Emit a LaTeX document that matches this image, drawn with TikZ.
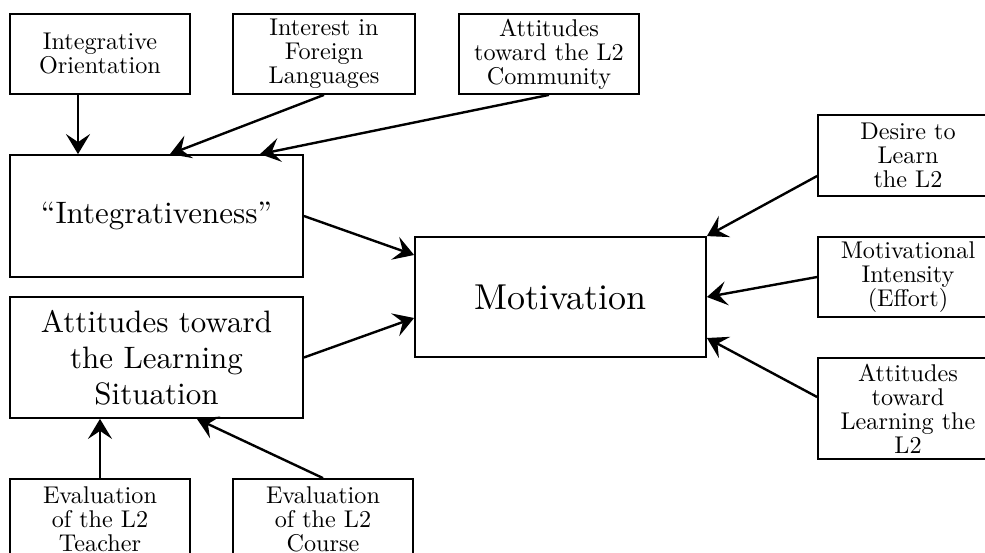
\documentclass[tikz,border=0pt]{standalone}
\usetikzlibrary{arrows.meta}
\DeclareFontFamily{TU}{lmten}{}
\DeclareFontShape{TU}{lmten}{m}{n}{<-> "[lmroman10-regular]:mapping=tex-text"}{}
\begin{document}
\begin{tikzpicture}[x=1pt,y=-1pt,
  box/.style={draw, line width=1.8pt, inner sep=0pt, align=center},
  smalltext/.style={font=\fontfamily{lmten}\fontsize{24.2}{24}\selectfont},
  bigtext/.style={font=\fontfamily{lmten}\fontsize{31}{36}\selectfont},
  hugetext/.style={font=\fontfamily{lmten}\fontsize{36}{43}\selectfont},
  arr/.style={-{Stealth[length=20pt,width=24pt,inset=8pt]}, line width=2.4pt}]
\useasboundingbox (0,0) rectangle (985,553);
% top row
\node[box, smalltext, minimum width=180pt, minimum height=80pt] (io) at (100,54) {Integrative\\Orientation};
\node[box, smalltext, minimum width=182pt, minimum height=80pt] (ifl) at (324,54) {Interest in\\Foreign\\Languages};
\node[box, smalltext, minimum width=180pt, minimum height=80pt] (com) at (549,54) {Attitudes\\toward the L2\\Community};
% left big boxes
\node[box, bigtext, minimum width=293pt, minimum height=122pt] (integ) at (156.5,216) {“Integrativeness”};
\node[box, bigtext, minimum width=293pt, minimum height=121pt] (als) at (156.5,357.5) {Attitudes toward\\the Learning\\Situation};
% motivation
\node[box, hugetext, minimum width=291pt, minimum height=120pt] (mot) at (560.5,297) {Motivation};
% right boxes
\node[box, smalltext, minimum width=180pt, minimum height=81pt] (des) at (908,155.5) {Desire to\\Learn\\the L2};
\node[box, smalltext, minimum width=180pt, minimum height=80pt] (mi) at (908,277) {Motivational\\Intensity\\(Effort)};
\node[box, smalltext, minimum width=180pt, minimum height=101pt] (atl) at (908,408.5) {Attitudes\\toward\\Learning the\\L2};
% bottom boxes
\node[box, smalltext, minimum width=180pt, minimum height=80pt] (teach) at (100,519) {Evaluation\\of the L2\\Teacher};
\node[box, smalltext, minimum width=180pt, minimum height=80pt] (course) at (323,519) {Evaluation\\of the L2\\Course};
% arrows
\draw[arr] ([xshift=-22pt]io.south) -- ([xshift=-78.5pt]integ.north);
\draw[arr] (ifl.south) -- ([xshift=13.5pt]integ.north);
\draw[arr] (com.south) -- ([xshift=103.5pt]integ.north);
\draw[arr] (integ.east) -- ([yshift=42pt]mot.west);
\draw[arr] (als.east) -- ([yshift=-21pt]mot.west);
\draw[arr] (teach.north) -- ([xshift=-56.5pt]als.south);
\draw[arr] (course.north) -- ([xshift=40.5pt]als.south);
\draw[arr] ([yshift=-20.5pt]des.west) -- (mot.north east);
\draw[arr] (mi.west) -- (mot.east);
\draw[arr] ([yshift=11.5pt]atl.west) -- ([yshift=-41pt]mot.east);
\end{tikzpicture}
\end{document}
